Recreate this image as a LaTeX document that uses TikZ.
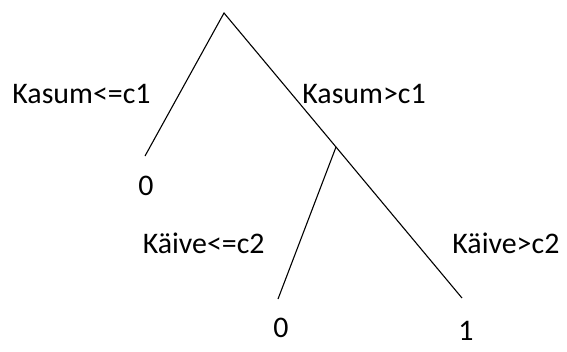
\documentclass[tikz,border=0pt]{standalone}
\usepackage{fontspec}
\setmainfont{Carlito}
\usetikzlibrary{positioning}
\tikzset{
  branch/.style={draw=black, line width=0.55pt},
  edgelabel/.style={inner sep=0pt, font=\fontsize{15}{18}\selectfont},
  leaflabel/.style={inner sep=0pt, anchor=base, font=\fontsize{15}{18}\selectfont}
}
\begin{document}
\begin{tikzpicture}[x=0.5bp,y=-0.5bp]
\useasboundingbox (0,0) rectangle (567,351);
% tree points
\coordinate (root) at (224,13);
\coordinate (leftend) at (145,156);
\coordinate (split) at (336,147);
\coordinate (midend) at (278,299);
\coordinate (rightend) at (462,298);
\draw[branch] (leftend) -- (root) -- (split) -- (rightend);
\draw[branch] (split) -- (midend);
% split conditions
\node[edgelabel, anchor=base west] (kasumle) at (12,103) {Kasum<=c1};
\node[edgelabel, anchor=base west] (kasumgt) at (302,103) {Kasum>c1};
\node[edgelabel, anchor=base east] (kaivele) at (265,253) {Käive<=c2};
\node[edgelabel, anchor=base west] (kaivegt) at (452,253) {Käive>c2};
% leaves
\foreach \name/\x/\y/\val in {leafa/146/195/0, leafb/281/337/0, leafc/466/340/1}{
\node[leaflabel] (\name) at (\x,\y) {\val};}
\end{tikzpicture}
\end{document}
